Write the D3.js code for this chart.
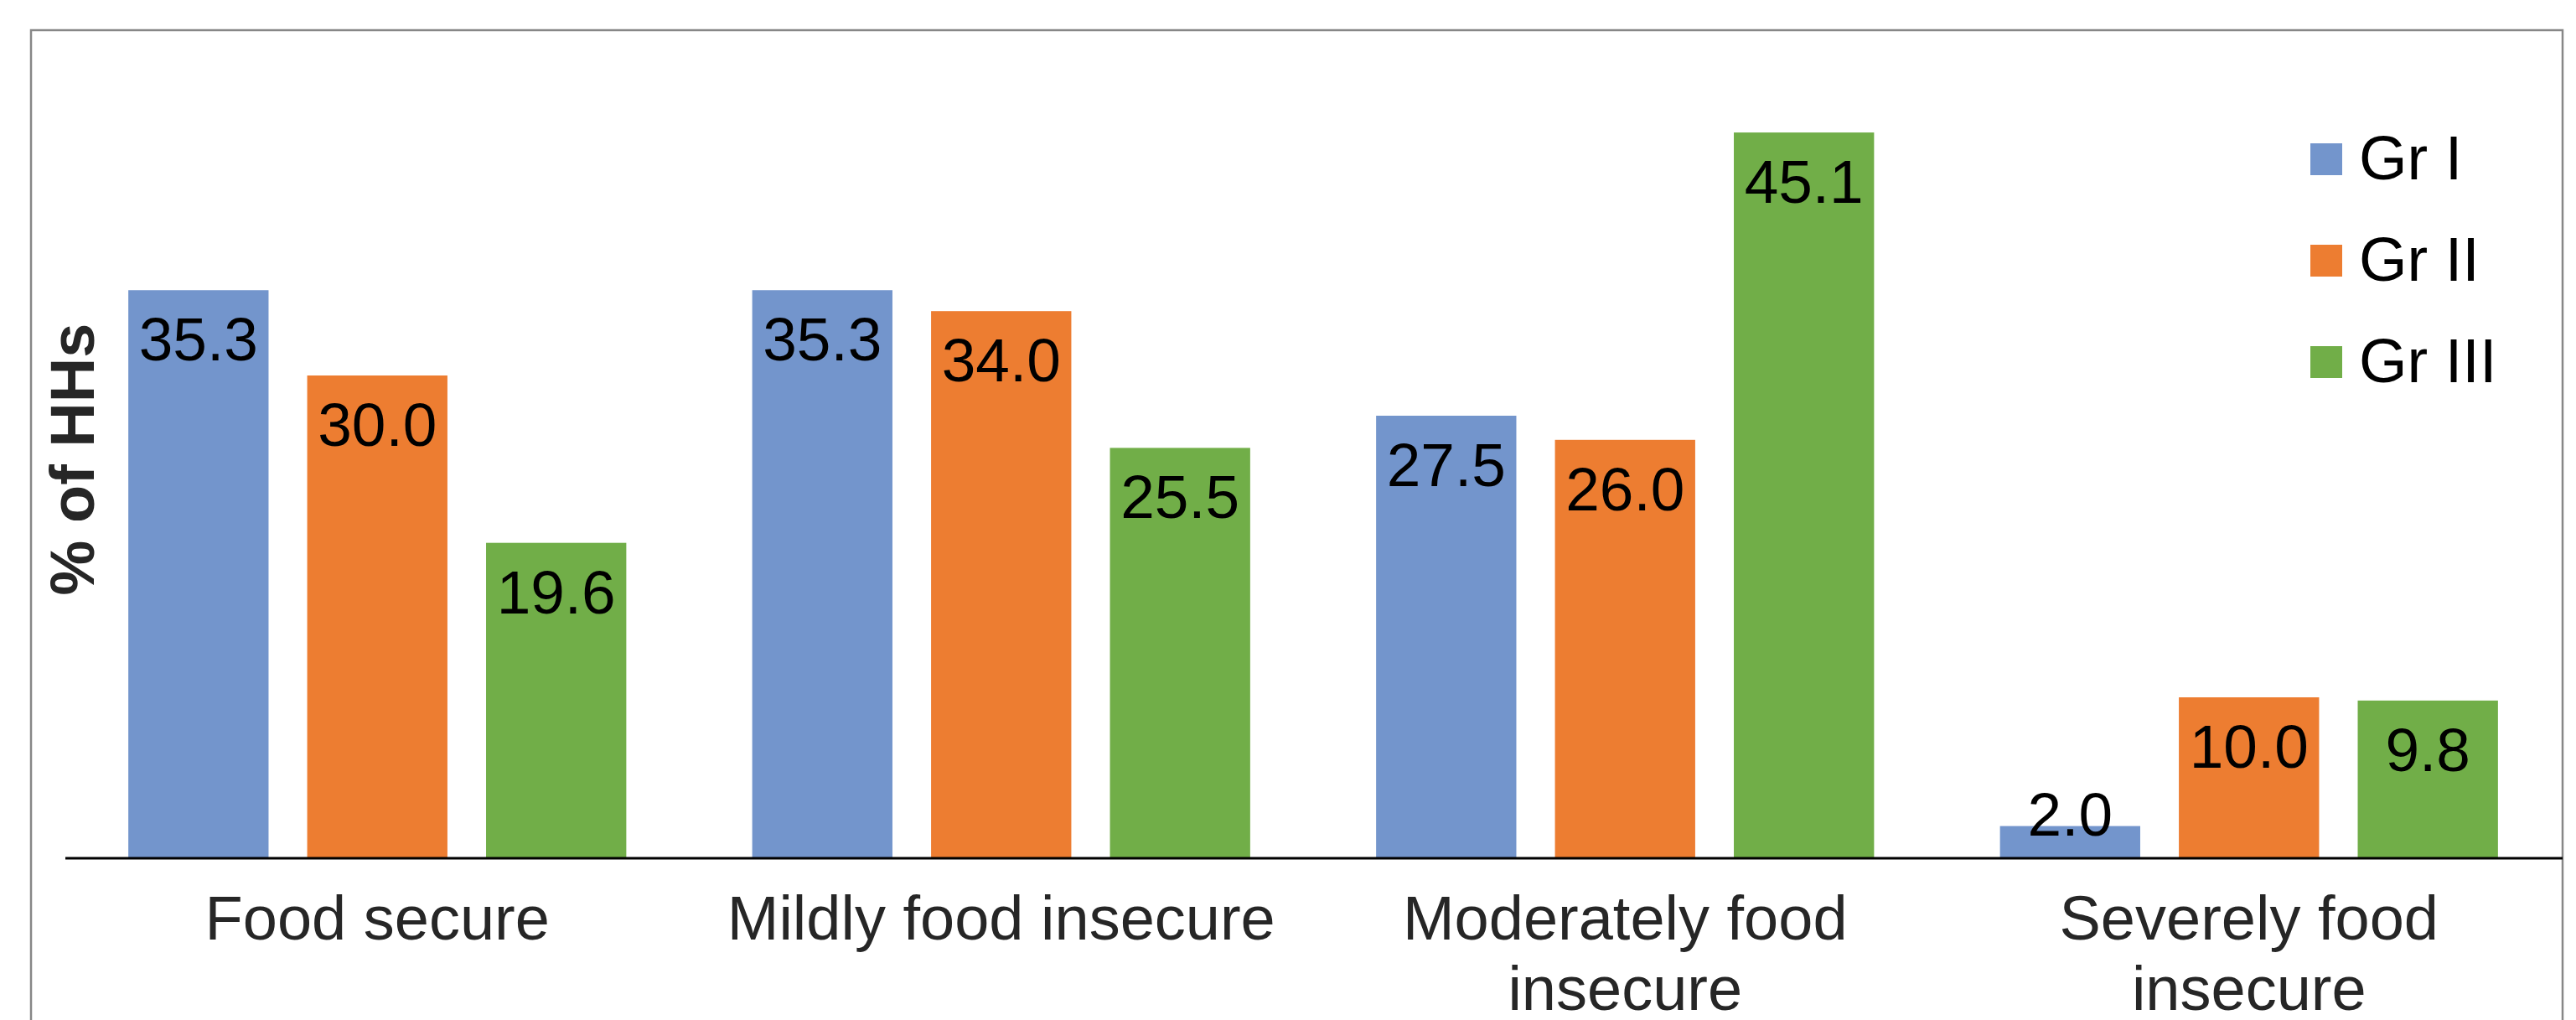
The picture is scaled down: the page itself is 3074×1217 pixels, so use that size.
<!DOCTYPE html>
<html>
<head>
<meta charset="utf-8">
<script src="https://cdn.jsdelivr.net/npm/d3@7"></script>
<style>
  html, body { margin: 0; padding: 0; background: #fff; }
  svg { display: block; }
  text { font-family: "Liberation Sans", Arial, sans-serif; }
</style>
</head>
<body>
<svg id="chart" width="3074" height="1217"></svg>
<script>
// Household food security status by group
const categories = [
  ["Food secure"],
  ["Mildly food insecure"],
  ["Moderately food", "insecure"],
  ["Severely food", "insecure"]
];
const groups = ["Gr I", "Gr II", "Gr III"];
const grI   = [35.3, 35.3, 27.5, 2.0];
const grII  = [30.0, 34.0, 26.0, 10.0];
const grIII = [19.6, 25.5, 45.1, 9.8];
const colors = ["#7395CC", "#ED7D31", "#71AE48"];
const yDomain = [0, 50];

const series = [grI, grII, grIII];

const svg = d3.select("#chart");
const W = 3074, H = 1217;

// chart frame
svg.append("rect")
  .attr("x", 37).attr("y", 36)
  .attr("width", 3058 - 37).attr("height", H)
  .attr("fill", "#fff")
  .attr("stroke", "#878787")
  .attr("stroke-width", 2.5);

const plot = { left: 78, right: 3056, top: 64, bottom: 1024 };

const x0 = d3.scaleBand()
  .domain(d3.range(categories.length))
  .range([plot.left, plot.right])
  .paddingInner(0)
  .paddingOuter(0);

const x1 = d3.scaleBand()
  .domain(d3.range(groups.length))
  .range([0, x0.bandwidth()])
  .paddingInner(0.216)
  .paddingOuter(0.352);

const y = d3.scaleLinear().domain(yDomain).range([plot.bottom, plot.top]);

// bars
const gCat = svg.append("g").selectAll("g")
  .data(categories.map((c, i) => i))
  .join("g")
  .attr("transform", i => `translate(${x0(i)},0)`);

gCat.selectAll("rect")
  .data(i => series.map((s, k) => ({ k, v: s[i] })))
  .join("rect")
  .attr("x", d => x1(d.k))
  .attr("y", d => y(d.v))
  .attr("width", x1.bandwidth())
  .attr("height", d => y(0) - y(d.v))
  .attr("fill", d => colors[d.k]);

// value labels at the inside end of each bar
gCat.selectAll("text.val")
  .data(i => series.map((s, k) => ({ k, v: s[i] })))
  .join("text")
  .attr("class", "val")
  .attr("x", d => x1(d.k) + x1.bandwidth() / 2)
  .attr("y", d => Math.min(y(d.v) + 84, y(0) - 27))
  .attr("text-anchor", "middle")
  .attr("font-size", 73)
  .attr("fill", "#000")
  .text(d => d3.format(".1f")(d.v));

// category axis
const xAxis = d3.axisBottom(x0).tickSize(0).tickFormat("");
const axisG = svg.append("g")
  .attr("transform", `translate(0,${plot.bottom})`)
  .call(xAxis);
axisG.select(".domain").attr("stroke", "#000").attr("stroke-width", 3)
  .attr("d", `M${plot.left},0H${plot.right + 2}`);

axisG.selectAll(".tick").each(function(i) {
  const t = d3.select(this).append("text")
    .attr("text-anchor", "middle")
    .attr("font-size", 74)
    .attr("fill", "#262626");
  categories[i].forEach((line, j) => {
    t.append("tspan")
      .attr("x", 0)
      .attr("y", 97 + j * 84)
      .text(line);
  });
});

// y-axis title
svg.append("text")
  .attr("transform", "translate(112,548) rotate(-90)")
  .attr("text-anchor", "middle")
  .attr("font-size", 74)
  .attr("font-weight", "bold")
  .attr("fill", "#262626")
  .text("% of HHs");

// legend
const legend = svg.append("g").attr("transform", "translate(2757,171)");
const li = legend.selectAll("g")
  .data(groups)
  .join("g")
  .attr("transform", (d, k) => `translate(0,${k * 121})`);
li.append("rect")
  .attr("width", 38).attr("height", 38)
  .attr("fill", (d, k) => colors[k]);
li.append("text")
  .attr("x", 58).attr("y", 43)
  .attr("font-size", 74)
  .attr("fill", "#000")
  .text(d => d);
</script>
</body>
</html>
